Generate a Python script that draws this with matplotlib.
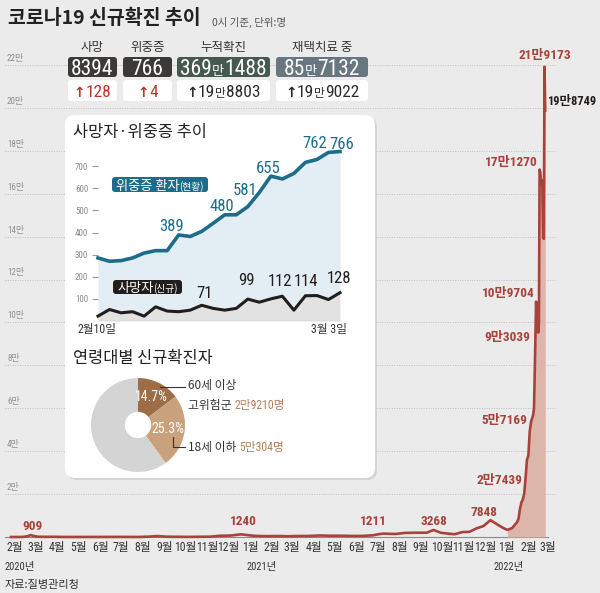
import numpy as np
import matplotlib
matplotlib.use("Agg")
import matplotlib.pyplot as plt
import matplotlib.dates as mdates
from matplotlib import font_manager
from matplotlib.patches import FancyBboxPatch
from matplotlib.lines import Line2D
from matplotlib.transforms import Affine2D, IdentityTransform

# ---------------- data ----------------
title = "코로나19 신규확진 추이"
subtitle = "0시 기준, 단위:명"
source = "자료:질병관리청"

case_dates = [
    "2020-02-01", "2020-02-18", "2020-02-22", "2020-02-26", "2020-02-29", "2020-03-03", "2020-03-08",
    "2020-03-12", "2020-03-20", "2020-04-01", "2020-04-15", "2020-05-01", "2020-05-15", "2020-06-01",
    "2020-06-15", "2020-07-01", "2020-07-15", "2020-08-01", "2020-08-15", "2020-08-27", "2020-09-10",
    "2020-09-25", "2020-10-10", "2020-10-25", "2020-11-10", "2020-11-25", "2020-12-10", "2020-12-25",
    "2021-01-05", "2021-01-15", "2021-02-01", "2021-02-15", "2021-03-01", "2021-03-15", "2021-04-01",
    "2021-04-15", "2021-05-01", "2021-05-15", "2021-06-01", "2021-06-15", "2021-07-01", "2021-07-07",
    "2021-07-15", "2021-08-01", "2021-08-15", "2021-09-01", "2021-09-15", "2021-09-25", "2021-10-05",
    "2021-10-15", "2021-10-25", "2021-11-05", "2021-11-15", "2021-11-25", "2021-12-05", "2021-12-15",
    "2021-12-25", "2022-01-01", "2022-01-08", "2022-01-12", "2022-01-15", "2022-01-19", "2022-01-22",
    "2022-01-24", "2022-01-26", "2022-01-28", "2022-01-30", "2022-02-01", "2022-02-03", "2022-02-05",
    "2022-02-07", "2022-02-09", "2022-02-11", "2022-02-13", "2022-02-14", "2022-02-15", "2022-02-16",
    "2022-02-17", "2022-02-18", "2022-02-19", "2022-02-20", "2022-02-21", "2022-02-22", "2022-02-23",
    "2022-02-24", "2022-02-25", "2022-02-26", "2022-02-27", "2022-02-28", "2022-03-01", "2022-03-02",
    "2022-03-03",
]
case_values = [
    1, 30, 230, 500, 909, 600, 250,
    110, 90, 100, 30, 10, 30, 40,
    40, 50, 40, 30, 160, 441, 150,
    100, 60, 100, 140, 580, 680, 1240,
    800, 500, 400, 450, 350, 450, 500,
    700, 600, 600, 500, 500, 800, 1211,
    1600, 1400, 1900, 2000, 2000, 3268, 2000,
    1600, 1300, 2300, 2400, 4000, 5100, 7848,
    5800, 4400, 3300, 3800, 4200, 5800, 7000,
    8500, 13000, 16000, 17500, 20000, 27439, 36000,
    38000, 49500, 54000, 56000, 57169, 60000, 75000,
    93039, 109704, 102000, 104800, 95300, 99500, 171270,
    170000, 165800, 166200, 163500, 139600, 139000, 219173,
    198749,
]

label_dates = ["2020-02-29", "2020-12-25", "2021-07-07", "2021-09-25", "2021-12-15", "2022-02-03",
               "2022-02-14", "2022-02-17", "2022-02-18", "2022-02-23", "2022-03-02", "2022-03-03"]
label_texts = ["909", "1240", "1211", "3268", "7848", "2만7439",
               "5만7169", "9만3039", "10만9704", "17만1270", "21만9173", "19만8749"]

y_tick_values = [20000, 40000, 60000, 80000, 100000, 120000, 140000, 160000, 180000, 200000, 220000]
y_tick_labels = ["2만", "4만", "6만", "8만", "10만", "12만", "14만", "16만", "18만", "20만", "22만"]

month_labels = ["2월", "3월", "4월", "5월", "6월", "7월", "8월", "9월", "10월", "11월", "12월",
                "1월", "2월", "3월", "4월", "5월", "6월", "7월", "8월", "9월", "10월", "11월", "12월",
                "1월", "2월", "3월"]
year_labels = ["2020년", "2021년", "2022년"]

stat_names = ["사망", "위중증", "누적확진", "재택치료 중"]
stat_values = ["8394", "766", "369만1488", "85만7132"]
stat_changes = ["128", "4", "19만8803", "19만9022"]

trend_title = "사망자·위중증 추이"
trend_start, trend_end = "2월10일", "3월 3일"
critical = [285, 270, 273, 285, 307, 318, 318, 389, 382, 405, 442, 480,
            480, 517, 581, 655, 642, 667, 717, 730, 762, 766]
deaths = [22, 52, 37, 42, 22, 64, 45, 42, 49, 71, 57, 49,
          57, 99, 85, 100, 112, 49, 114, 115, 97, 128]
critical_label_idx = [7, 11, 14, 15, 20, 21]
death_label_idx = [9, 13, 16, 18, 21]

age_title = "연령대별 신규확진자"
age_shares = [14.7, 25.3, 60.0]
age_pct_labels = ["14.7%", "25.3%"]

# ---------------- style ----------------
W, H = 600, 593
BG = "#ebebeb"
RED = "#a8423a"
FILL = "#dcb6aa"
TEAL = "#1d6d8a"
DARK = "#221e1c"
BROWN_TXT = "#b3805a"

names = {f.name for f in font_manager.fontManager.ttflist}
NARROW = next((n for n in ["Liberation Sans Narrow", "Roboto Condensed", "Open Sans Condensed",
                           "DejaVu Sans Condensed"] if n in names), "Liberation Sans")
KR = ["Noto Sans CJK KR", "DejaVu Sans"]
NR = [NARROW, "Noto Sans CJK KR", "DejaVu Sans"]

fig = plt.figure(figsize=(W / 100, H / 100), dpi=100)
fig.patch.set_facecolor(BG)
PIX = Affine2D().scale(1, -1).translate(0, H)  # pixel coords, origin top-left
_r = fig.canvas.get_renderer()


def box_px(l, t, w, h, fc, r=3, z=2):
    p = FancyBboxPatch((l, H - t - h), w, h, boxstyle=f"round,pad=0,rounding_size={r}",
                       transform=IdentityTransform(), fc=fc, ec="none", lw=0, zorder=z)
    fig.add_artist(p)
    return p


def rich(x, y, parts, ha="left", z=6):
    ts, ws = [], []
    for s, size, color, fam, wt in parts:
        t = fig.text(0, 0, s, fontsize=size, color=color, family=fam, fontweight=wt,
                     ha="left", va="baseline", transform=PIX, zorder=z)
        ws.append(t.get_window_extent(renderer=_r).width)
        ts.append(t)
    tot = sum(ws)
    cur = x - tot / 2 if ha == "center" else (x - tot if ha == "right" else x)
    for t, w in zip(ts, ws):
        t.set_position((cur, y))
        cur += w


def split_man(s, big, small, color, wt="normal"):
    parts = []
    if "만" in s:
        a, b = s.split("만")
        parts += [(a, big, color, NR, wt), ("만", small, color, KR, wt), (b, big, color, NR, wt)]
    else:
        parts.append((s, big, color, NR, wt))
    return parts


def ptxt(x, y, s, **kw):
    kw.setdefault("zorder", 6)
    return fig.text(x, y, s, transform=PIX, **kw)


# ---------------- main chart ----------------
ax = fig.add_axes([0, 0, 1, 1], zorder=0)
ax.set_facecolor("none")
ax.axis("off")
D0 = mdates.datestr2num("2020-02-01")
PX_DAY = 0.702
X0 = 11
ax.set_xlim(D0 - X0 / PX_DAY, D0 + (W - X0) / PX_DAY)
VPP = 220000 / 472
ax.set_ylim(-(H - 537) * VPP, 220000 + 65 * VPP)

for v, lab in zip(y_tick_values, y_tick_labels):
    ax.axhline(v, xmin=5 / W, xmax=555 / W, color="#bdbdbd", lw=0.7, ls=(0, (1, 1.5)), zorder=1)
    ax.annotate(lab, xy=(7 / W, v), xycoords=ax.get_yaxis_transform(), xytext=(0, 1.5),
                textcoords="offset points", va="bottom", ha="left", fontsize=6.5,
                color="#8f8f8f", family=NR)
ax.axhline(0, xmin=5 / W, xmax=548 / W, color="#8a8a8a", lw=0.8, zorder=1)

xd = mdates.datestr2num(case_dates)
vals = np.array(case_values, dtype=float)
mask = xd >= mdates.datestr2num("2022-01-08")
ax.fill_between(xd[mask], 0, vals[mask], color=FILL, lw=0, zorder=2)
ax.plot(xd, vals, color=RED, lw=1.9, solid_joinstyle="round", zorder=3)

# month ticks
for i, lab in enumerate(month_labels):
    yy, mm = 2020 + (1 + i) // 12, (1 + i) % 12 + 1
    d = mdates.datestr2num(f"{yy}-{mm:02d}-01")
    ax.text(d + 6, 1 - 548 / H, lab, transform=ax.get_xaxis_transform(), ha="center",
            va="center", fontsize=8.5, family=NR, color="#333333")

ptxt(5, 567, year_labels[0], ha="left", va="center", fontsize=7.5, family=NR, color="#333333")
ptxt(262, 567, year_labels[1], ha="center", va="center", fontsize=7.5, family=NR, color="#333333")
ptxt(509, 567, year_labels[2], ha="center", va="center", fontsize=7.5, family=NR, color="#333333")
ptxt(5, 585, source, ha="left", va="center", fontsize=8, family=KR, color="#333333")

label_layout = [("center", 2, 9), ("center", 2, 12.5), ("center", -4, 12.5), ("center", 0, 8),
                ("center", -7, 8), ("right", -3.6, -2), ("right", -6, -6), ("right", -5, -0.6),
                ("right", -1, 8.6), ("right", -1.6, 7.5), ("center", 0, 11), ("left", 2, 8.6)]
val_by_date = dict(zip(case_dates, case_values))
for d, lab, (ha, dx, dy) in zip(label_dates, label_texts, label_layout):
    last = lab == label_texts[-1]
    col = DARK if last else RED
    ax.annotate(lab, xy=(mdates.datestr2num(d), val_by_date[d]), xytext=(dx * 0.72, dy * 0.72),
                textcoords="offset points", ha=ha, va="center", fontsize=9 if last else 9.5,
                family=NR, fontweight="bold", color=col, zorder=5)

# ---------------- title & stats ----------------
ptxt(8, 18, title, ha="left", va="center", fontsize=14, family=KR, fontweight="bold", color="#222222")
ptxt(212, 22, subtitle, ha="left", va="center", fontsize=7.5, family=KR, color="#555555")

stat_boxes = [(68, 49), (123, 49), (177, 93), (276, 92)]
stat_colors = ["#3b3a38", "#3b3a38", "#46594f", "#67767f"]
change_colors = ["#b8372c", "#b8372c", "#2b2b2b", "#2b2b2b"]
for (l, w), name, val, chg, bc, cc in zip(stat_boxes, stat_names, stat_values, stat_changes,
                                          stat_colors, change_colors):
    cx = l + w / 2
    ptxt(cx, 47, name, ha="center", va="center", fontsize=9, family=KR, color="#333333")
    box_px(l, 57, w, 20, bc, r=3)
    box_px(l, 80, w, 21, "white", r=3)
    rich(cx, 75, split_man(val, 15.5, 9.5, "white"), ha="center")
    rich(cx, 97, [("↑", 10, cc, ["DejaVu Sans"], "bold")] + split_man(chg, 12.5, 8.5, cc),
         ha="center")

# ---------------- inset panel ----------------
box_px(67, 117, 310, 363, "#d4d4d4", r=10, z=0.8)
box_px(65, 115, 310, 363, "white", r=10, z=0.9)
ptxt(73, 133, trend_title, ha="left", va="center", fontsize=11.8, family=KR, color="#222222")

axi = fig.add_axes([98 / W, 1 - 321 / H, (340 - 98) / W, (321 - 144) / H], zorder=4)
axi.set_facecolor("none")
xi = np.arange(len(critical))
axi.fill_between(xi, deaths, critical, color="#e3edf4", lw=0)
axi.fill_between(xi, 0, deaths, color="#e2e2e2", lw=0)
axi.plot(xi, critical, color=TEAL, lw=2.6, solid_joinstyle="round", clip_on=False)
axi.plot(xi, deaths, color=DARK, lw=2.2, solid_joinstyle="round", clip_on=False)
axi.axhline(0, color="#888888", lw=0.8)
axi.set_xlim(0, len(critical) - 1)
axi.set_ylim(0, 800)
for s in axi.spines.values():
    s.set_visible(False)
axi.set_xticks([])
axi.set_yticks(range(100, 800, 100))
axi.tick_params(axis="y", length=4.5, width=0.8, color="#9a9a9a", labelcolor="#8a8a8a",
                labelsize=6.5, pad=2.5)
for t in axi.get_yticklabels():
    t.set_family(NR)

crit_layout = [("center", -6.7, 4), ("center", -3, 4), ("right", -2, -2.5), ("center", -2.4, 3),
               ("right", -1.5, 4), ("center", 1.5, 3)]
for i, (ha, dx, dy) in zip(critical_label_idx, crit_layout):
    axi.annotate(str(critical[i]), xy=(i, critical[i]), xytext=(dx * 0.72, dy * 0.72),
                 textcoords="offset points", ha=ha, va="baseline", fontsize=12, family=NR,
                 color=TEAL)
death_layout = [(3, 7), (-1.3, 14), (-2.5, 10.5), (1, 10), (-1.5, 10)]
for i, (dx, dy) in zip(death_label_idx, death_layout):
    axi.annotate(str(deaths[i]), xy=(i, deaths[i]), xytext=(dx * 0.72, dy * 0.72),
                 textcoords="offset points", ha="center", va="baseline", fontsize=12, family=NR,
                 color=DARK)

ptxt(97, 330, trend_start, ha="center", va="center", fontsize=8.5, family=NR, color="#333333")
ptxt(329, 330, trend_end, ha="center", va="center", fontsize=8.5, family=NR, color="#333333")

box_px(112, 177, 96, 15, TEAL, r=3, z=5)
rich(160, 190, [("위중증 환자", 9.5, "white", KR, "normal"), ("(현황)", 7, "white", KR, "normal")],
     ha="center", z=7)
box_px(113, 280, 69, 14, DARK, r=3, z=5)
rich(147.5, 292, [("사망자", 9.5, "white", KR, "normal"), ("(신규)", 7, "white", KR, "normal")],
     ha="center", z=7)

# ---------------- donut ----------------
ptxt(73, 359, age_title, ha="left", va="center", fontsize=11.8, family=KR, color="#222222")
axd = fig.add_axes([(138 - 47) / W, 1 - (425 + 47) / H, 94 / W, 94 / H], zorder=4)
axd.pie(age_shares, colors=["#9e6d45", "#c9a17d", "#d4d4d4"], startangle=90, counterclock=False,
        radius=1, wedgeprops=dict(width=0.72, edgecolor="none"))
axd.set_xlim(-1, 1)
axd.set_ylim(-1, 1)
cum = 0
for share, lab, rr in zip(age_shares, age_pct_labels, [0.66, 0.64]):
    ang = np.deg2rad(90 - 360 * (cum + share / 2) / 100)
    axd.text(rr * np.cos(ang), rr * np.sin(ang), lab, ha="center", va="center", fontsize=10,
             family=NR, color="white")
    cum += share

fig.add_artist(Line2D([160, 185], [387, 387], transform=PIX, color="#333333", lw=0.8, zorder=6))
fig.add_artist(Line2D([173, 173, 185], [437, 447, 447], transform=PIX, color="#333333", lw=0.8,
                      zorder=6))
ptxt(188, 385, "60세 이상", ha="left", va="center", fontsize=8.5, family=KR, color="#333333")
rich(188, 409, [("고위험군 ", 8.5, "#333333", KR, "normal"), ("2만9210명", 8.5, BROWN_TXT, NR, "normal")])
rich(188, 451, [("18세 이하 ", 8.5, "#333333", KR, "normal"), ("5만304명", 8.5, BROWN_TXT, NR, "normal")])

fig.savefig("out.png", dpi=100, facecolor=BG)
